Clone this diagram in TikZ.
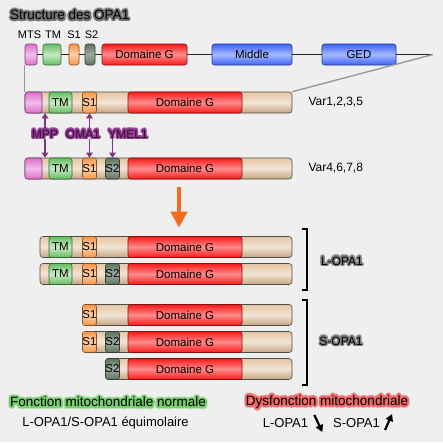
\documentclass[tikz,border=0pt]{standalone}
\usepackage{fontspec}
\setmainfont{Liberation Sans}
\usepackage{xcolor}
\usepackage{tikz}
\usetikzlibrary{positioning, calc, arrows.meta}

\definecolor{bgc}{RGB}{239,239,239}
\definecolor{tanc}{RGB}{224,188,148}
\definecolor{mtsc}{RGB}{222,110,205}
\definecolor{tmc}{RGB}{100,190,95}
\definecolor{s1c}{RGB}{248,150,70}
\definecolor{s2c}{RGB}{95,115,95}
\definecolor{gdc}{RGB}{250,25,25}
\definecolor{bluec}{RGB}{60,100,250}
\definecolor{cutc}{RGB}{150,60,150}
\definecolor{splitc}{RGB}{242,107,33}
\definecolor{okc}{RGB}{120,205,110}
\definecolor{badc}{RGB}{238,105,105}

% text with a soft halo round it
\newcommand\glowtext[3]{%
  \colorlet{glowc}{#1}%
  \setbox0\hbox{#3}%
  \foreach \rr/\tint in {1/45,0.7/100,0.35/100}{%
    \foreach \ang in {0,20,...,340}{%
      \pgfmathsetlengthmacro\gdx{\rr*#2*cos(\ang)}%
      \pgfmathsetlengthmacro\gdy{\rr*#2*sin(\ang)}%
      \rlap{\hspace*{\gdx}\raisebox{\gdy}[0pt][0pt]{\textcolor{glowc!\tint!bgc}{\copy0}}}}}%
  \copy0}

\tikzset{
  dom/.style={draw=#1!55!black, rounded corners=2.5pt, line width=0.6pt, inner sep=0pt,
    minimum height=21pt, font=\fontsize{11.5}{12}\selectfont,
    top color=#1, bottom color=#1, middle color=#1!45!white},
  bar/.style={draw=black!70, rounded corners=3pt, line width=0.6pt, inner sep=0pt,
    minimum height=21pt, top color=tanc!85!white, bottom color=tanc!88!black,
    middle color=tanc!40!white},
  lbl/.style={inner sep=0pt, font=\fontsize{11}{12}\selectfont},
  cut/.style={inner sep=1pt, font=\fontsize{12}{12}\selectfont, text=cutc!30!black},
  cutarrow/.style={cutc!85!black, line width=1.6pt, -{Triangle[length=5pt,width=6.5pt]}},
  brk/.style={line width=2.2pt},
  note/.style={inner sep=0pt, font=\fontsize{13}{14}\selectfont},
  trend/.style={line width=2.2pt, -{Triangle[length=7pt,width=7.5pt]}}
}

\begin{document}
\begin{tikzpicture}[x=1pt, y=-1pt]

\useasboundingbox[fill=bgc] (0,0) rectangle (443,442);

%% -- title ------------------------------------------------------------
\node[inner sep=0pt, anchor=west, font=\fontsize{13.5}{14}\selectfont] (title) at (10,15)
  {\glowtext{black!55}{2.2pt}{Structure des OPA1}};

%% -- full protein -----------------------------------------------------
\begin{scope}[every node/.append style={minimum height=19pt}]
\node[dom=mtsc, minimum width=12pt] (mts) at (31,54.5) {};
\node[dom=tmc, minimum width=18pt, middle color=tmc!35!white] (tm) at (52,54.5) {};
\node[dom=s1c, minimum width=10pt] (s1) at (74,54.5) {};
\node[dom=s2c, minimum width=10pt, middle color=s2c!60!white] (s2) at (90,54.5) {};
\node[dom=gdc, minimum width=85pt, middle color=gdc!50!white] (gd) at (144.5,54.5) {Domaine G};
\node[dom=bluec, minimum width=80pt] (mid) at (252,54.5) {Middle};
\node[dom=bluec, minimum width=74pt] (ged) at (359,54.5) {GED};
\end{scope}
\coordinate (tail) at (433,54.5);

\node[lbl, above=5pt of mts, xshift=-1.5pt] (mtslbl) {MTS};
\node[lbl, above=5pt of tm, xshift=1pt] (tmlbl) {TM};
\node[lbl, above=5pt of s1] (s1lbl) {S1};
\node[lbl, above=5pt of s2, xshift=1.5pt] (s2lbl) {S2};

\draw[line width=1.4pt, black!85] (mts) -- (tm) -- (s1) -- (s2) -- (gd) -- (mid) -- (ged) -- (tail);

%% -- isoforms: tan bar + domaine G ------------------------------------
\foreach \r/\y/\x in {v1/102.5/25, v4/168.5/25, la/247/40, lb/274/40, sa/315/83, sb/342/83, sc/369/106}{
  \pgfmathsetmacro\w{292-\x}
  \node[bar, minimum width=\w pt] (\r) at ({(\x+292)/2},\y) {};
  \node[dom=gdc, minimum width=114pt, middle color=gdc!50!white] (\r-g) at (185,\y) {Domaine G};
}
\foreach \r/\y in {v1/102.5, v4/168.5}
  \node[dom=mtsc, minimum width=17pt] (\r-mts) at (33.5,\y) {};
\foreach \r/\y in {v1/102.5, v4/168.5, la/247, lb/274}
  \node[dom=tmc, minimum width=23pt, middle color=tmc!35!white] (\r-tm) at (60.5,\y) {TM};
\foreach \r/\y in {v1/102.5, v4/168.5, la/247, lb/274, sa/315, sb/342}
  \node[dom=s1c, minimum width=13pt] (\r-s1) at (89.5,\y) {S1};
\foreach \r/\y in {v4/168.5, lb/274, sb/342, sc/369}
  \node[dom=s2c, minimum width=13pt, middle color=s2c!60!white] (\r-s2) at (112.5,\y) {S2};

\draw[black!40, line width=1.4pt] (mts.south west) -- (v1.north west);
\draw[black!40, line width=1.4pt] (tail) -- (v1.north east);

\node[lbl, font=\fontsize{12}{12}\selectfont, right=16pt of v1] (v1lbl) {Var1,2,3,5};
\node[lbl, font=\fontsize{12}{12}\selectfont, right=16pt of v4] (v4lbl) {Var4,6,7,8};

%% -- proteases ---------------------------------------------------------
\node[cut] (mpp) at (45,134) {\glowtext{cutc}{1.8pt}{MPP}};
\node[cut] (oma) at (83,134) {\glowtext{cutc}{1.8pt}{OMA1}};
\node[cut] (ymel) at (128,134) {\glowtext{cutc}{1.8pt}{YMEL1}};

\draw[cutarrow] (mpp.north) -- (mpp.north |- v1.south);
\draw[cutarrow] (mpp.south) -- (mpp.south |- v4.north);
\draw[cutarrow] (v1-s1.south |- oma.north) -- (v1-s1.south);
\draw[cutarrow] (v4-s1.north |- oma.south) -- (v4-s1.north);
\draw[cutarrow] (v4-s2.north |- ymel.south) -- (v4-s2.north);

%% -- processing arrow ------------------------------------------------
\coordinate (splittop) at (179,187);
\draw[splitc, line width=4pt, -{Triangle[length=16pt,width=16pt]}, shorten >=8.5pt]
  (splittop) -- (splittop |- la.north);

%% -- L / S forms ------------------------------------------------------
\draw[brk] (302,229) -| (307,290) -- (302,290);
\draw[brk] (302,300) -| (307,385) -- (302,385);
\node[lbl, font=\fontsize{12}{12}\selectfont] (lopa) at (342,261) {\glowtext{black!50}{1.8pt}{L-OPA1}};
\node[lbl, font=\fontsize{12}{12}\selectfont] (sopa) at (341,341) {\glowtext{black!50}{1.8pt}{S-OPA1}};

%% -- conclusions ----------------------------------------------------
\node[note, font=\fontsize{13.5}{14}\selectfont] (normal) at (108,402)
  {\glowtext{okc}{2.6pt}{Fonction mitochondriale normale}};
\node[note] (equi) at (105.5,423) {L-OPA1/S-OPA1 équimolaire};
\node[note, font=\fontsize{13.5}{14}\selectfont] (dysf) at (327,402)
  {\glowtext{badc}{2.6pt}{Dysfonction mitochondriale}};
\node[note] (ldown) at (285.5,423) {L-OPA1};
\node[note] (sup) at (356.5,423) {S-OPA1};
\draw[trend] ([xshift=6pt,yshift=8pt]ldown.east) -- ++(8,17);
\draw[trend] ([xshift=5pt,yshift=-7pt]sup.east) -- ++(7,-16);

\end{tikzpicture}
\end{document}
